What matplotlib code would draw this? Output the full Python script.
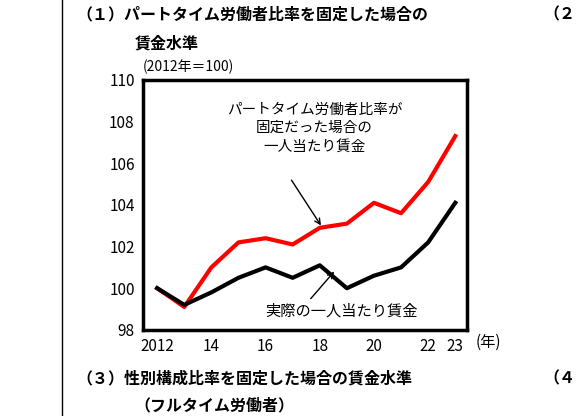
import matplotlib.pyplot as plt

plt.rcParams['font.family'] = ['Noto Sans CJK JP', 'DejaVu Sans']

years = [2012, 2013, 2014, 2015, 2016, 2017, 2018, 2019, 2020, 2021, 2022, 2023]
fixed_ratio = [100.0, 99.1, 101.0, 102.2, 102.4, 102.1, 102.9, 103.1, 104.1, 103.6, 105.1, 107.3]
actual = [100.0, 99.2, 99.8, 100.5, 101.0, 100.5, 101.1, 100.0, 100.6, 101.0, 102.2, 104.1]
xticks = [2012, 2014, 2016, 2018, 2020, 2022, 2023]
xlabels = ['2012', '14', '16', '18', '20', '22', '23']

fig = plt.figure(figsize=(5.84, 4.16), dpi=100)
ax = fig.add_axes([0.245, 0.207, 0.555, 0.601])
ax.plot(years, fixed_ratio, color='#ff0000', lw=3)
ax.plot(years, actual, color='black', lw=3)
ax.set_xlim(2011.48, 2023.44)
ax.set_ylim(98, 110)
ax.set_yticks(range(98, 111, 2))
ax.set_xticks(xticks)
ax.set_xticklabels(xlabels)
ax.tick_params(direction='in', length=0, labelsize=11, pad=6)
for s in ax.spines.values():
    s.set_linewidth(2.5)

ax.text(2017.8, 108.9, 'パートタイム労働者比率が\n固定だった場合の\n一人当たり賃金',
        ha='center', va='top', fontsize=10.5, linespacing=1.4)
ax.annotate('', xy=(2018.1, 102.9), xytext=(2016.9, 105.3),
            arrowprops=dict(arrowstyle='->', color='black', lw=1))
ax.text(2018.8, 98.9, '実際の一人当たり賃金', ha='center', va='center', fontsize=11)
ax.annotate('', xy=(2018.6, 100.9), xytext=(2017.6, 99.4),
            arrowprops=dict(arrowstyle='->', color='black', lw=1))

fig.text(0.13, 0.965, '（１）パートタイム労働者比率を固定した場合の', fontsize=11.5, fontweight='bold', va='center')
fig.text(0.23, 0.895, '賃金水準', fontsize=11.5, fontweight='bold', va='center')
fig.text(0.245, 0.84, '(2012年＝100)', fontsize=10, va='center')
fig.text(0.815, 0.178, '(年)', fontsize=11, va='center')
fig.text(0.13, 0.09, '（３）性別構成比率を固定した場合の賃金水準', fontsize=11.5, fontweight='bold', va='center')
fig.text(0.23, 0.025, '（フルタイム労働者）', fontsize=11.5, fontweight='bold', va='center')
fig.text(0.93, 0.965, '（２', fontsize=11.5, fontweight='bold', va='center')
fig.text(0.93, 0.09, '（４', fontsize=11.5, fontweight='bold', va='center')
fig.add_artist(plt.Line2D([0.106, 0.106], [0, 1], color='black', lw=1))

fig.savefig('out.png', dpi=100)
